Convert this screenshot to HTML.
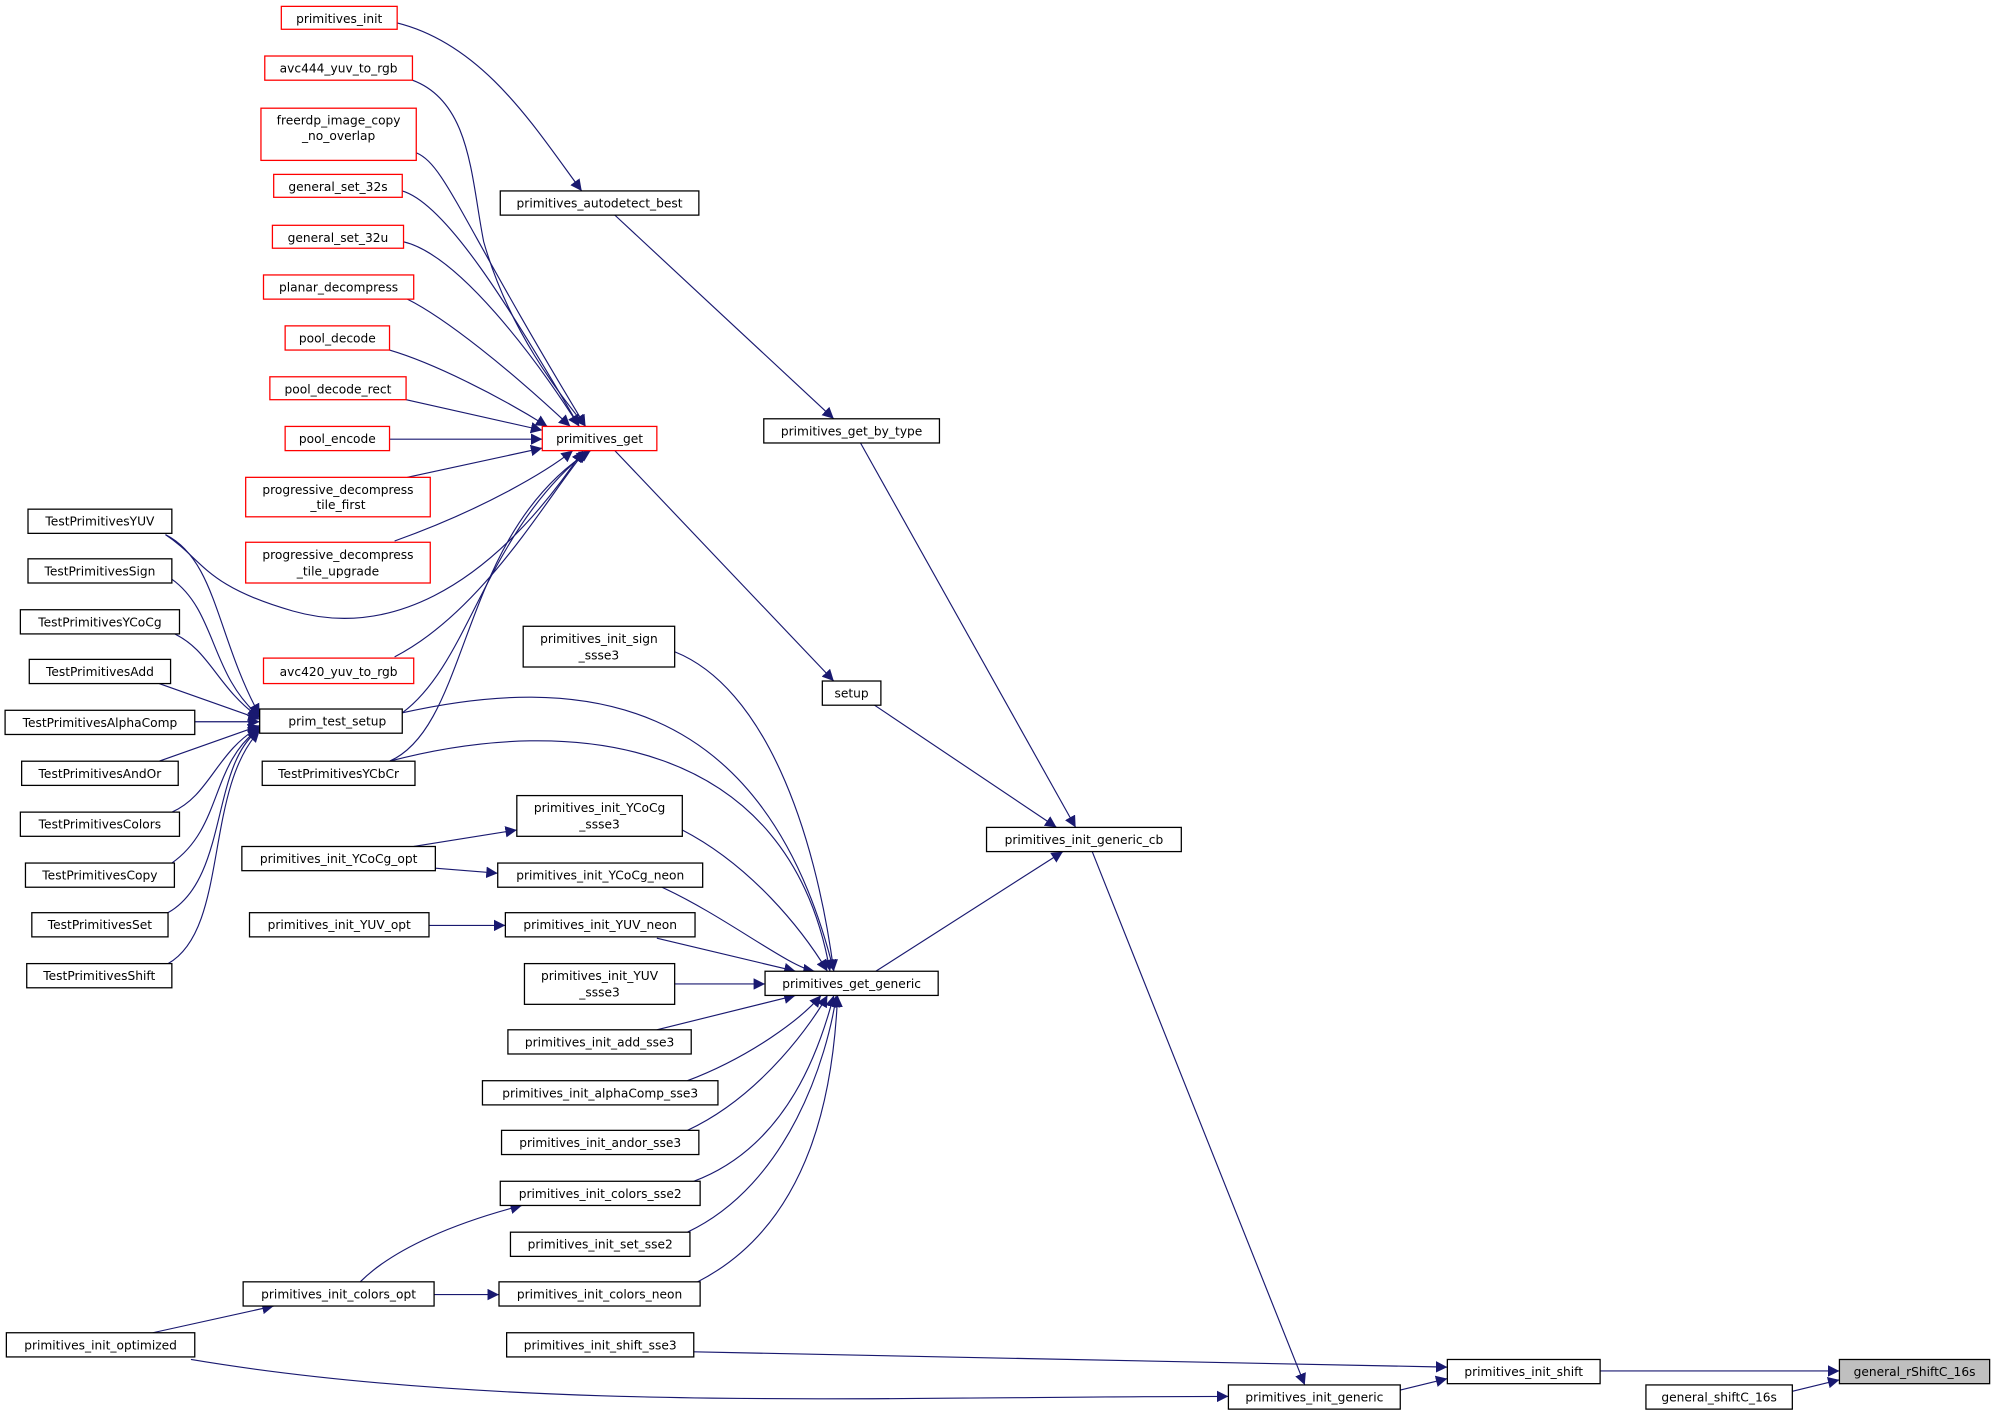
<!DOCTYPE html>
<html><head><meta charset="utf-8"><style>
html,body{margin:0;padding:0;background:#fff;}
svg{display:block;}
text{font-family:"DejaVu Sans","Liberation Sans",sans-serif;font-size:9.6px;fill:#000;text-anchor:middle;}
.b{fill:#fff;stroke:#000;stroke-width:1;}
.r{fill:#fff;stroke:#ff0000;stroke-width:1;}
.g{fill:#bfbfbf;stroke:#000;stroke-width:1;}
path.e{fill:none;stroke:#191970;stroke-width:0.9;}
</style></head><body>
<svg width="1996" height="1416" viewBox="0 0 1568 1112.4" preserveAspectRatio="none" xmlns="http://www.w3.org/2000/svg">
<defs><marker id="a" viewBox="0 0 10 10" refX="10" refY="5" markerWidth="9" markerHeight="9" markerUnits="userSpaceOnUse" orient="auto"><path d="M0,0L10,5L0,10z" fill="#191970"/></marker></defs>
<g marker-end="url(#a)">
<path class="e" d="M312,18 C380,35 420,100 457,150"/>
<path class="e" d="M483,169 L655,329"/>
<path class="e" d="M676,348 L845,650"/>
<path class="e" d="M483,354 L655,535"/>
<path class="e" d="M687,554 L830,650"/>
<path class="e" d="M858,669 L1025,1088"/>
<path class="e" d="M688,763 L835,669"/>
<path class="e" d="M1100,1092 L1137,1083"/>
<path class="e" d="M1257,1077 L1445,1077"/>
<path class="e" d="M1408,1093 L1445,1084"/>
<path class="e" d="M545,1062 L1137,1074"/>
<path class="e" d="M150,1068 C400,1110 700,1097 965,1097"/>
<path class="e" d="M341,1017 L392,1017"/>
<path class="e" d="M283,1007 C310,980 360,960 410,947"/>
<path class="e" d="M120,1047 L215,1026"/>
<path class="e" d="M325,665 L406,652"/>
<path class="e" d="M342,682 L391,686"/>
<path class="e" d="M337,727 L397,727"/>
<path class="e" d="M530,773 L601,773"/>
<!-- into get_generic -->
<path class="e" d="M530,512 C600,540 640,650 655,763"/>
<path class="e" d="M536,652 C590,680 630,730 650,763"/>
<path class="e" d="M520,697 C570,720 620,760 640,763"/>
<path class="e" d="M516,737 L625,763"/>
<path class="e" d="M516,809 L625,782"/>
<path class="e" d="M540,849 C590,830 630,800 645,782"/>
<path class="e" d="M540,888 C600,860 640,800 650,782"/>
<path class="e" d="M545,928 C620,900 645,820 655,782"/>
<path class="e" d="M540,968 C620,930 650,830 657,782"/>
<path class="e" d="M548,1007 C640,960 655,850 658,782"/>
<path class="e" d="M316,560 C450,530 600,540 655,763"/>
<path class="e" d="M306,598 C450,560 620,580 652,763"/>
<!-- into primitives_get -->
<path class="e" d="M324,63 C370,80 370,140 380,190 C400,260 440,310 460,335"/>
<path class="e" d="M327,120 C350,130 360,170 460,335"/>
<path class="e" d="M316,150 C350,160 400,240 455,335"/>
<path class="e" d="M317,190 C360,200 420,280 455,335"/>
<path class="e" d="M320,235 C350,250 400,290 448,335"/>
<path class="e" d="M306,275 C340,285 390,310 430,335"/>
<path class="e" d="M319,314 L426,338"/>
<path class="e" d="M306,345 L426,345"/>
<path class="e" d="M320,375 L426,352"/>
<path class="e" d="M310,425 C380,400 430,370 450,354"/>
<path class="e" d="M310,516 C380,480 430,390 460,354"/>
<path class="e" d="M316,560 C370,520 380,420 462,354"/>
<path class="e" d="M306,598 C370,570 360,420 464,354"/>
<path class="e" d="M130,420 C160,440 160,460 230,480 C300,500 380,470 458,354"/>
<!-- into prim_test_setup -->
<path class="e" d="M130,420 C170,440 170,500 204,562"/>
<path class="e" d="M135,455 C170,480 165,530 204,563"/>
<path class="e" d="M135,497 C165,510 170,540 204,564"/>
<path class="e" d="M125,537 L204,565"/>
<path class="e" d="M153,567 L204,567"/>
<path class="e" d="M125,598 L204,570"/>
<path class="e" d="M135,638 C165,625 170,590 204,571"/>
<path class="e" d="M135,678 C175,650 165,600 204,572"/>
<path class="e" d="M132,717 C180,690 165,600 204,573"/>
<path class="e" d="M132,757 C180,730 160,620 204,574"/>
</g>
<!-- red nodes -->
<rect class="r" x="221" y="5" width="91" height="18"/><text x="266.5" y="18">primitives_init</text>
<rect class="r" x="208" y="44" width="116" height="19"/><text x="266" y="57">avc444_yuv_to_rgb</text>
<rect class="r" x="205" y="85" width="122" height="41"/><text x="266" y="98">freerdp_image_copy</text><text x="266" y="110">_no_overlap</text>
<rect class="r" x="215" y="137" width="101" height="18"/><text x="265.5" y="150">general_set_32s</text>
<rect class="r" x="214" y="177" width="103" height="18"/><text x="265.5" y="190">general_set_32u</text>
<rect class="r" x="207" y="216" width="118" height="19"/><text x="266" y="229">planar_decompress</text>
<rect class="r" x="224" y="256" width="82" height="19"/><text x="265" y="269">pool_decode</text>
<rect class="r" x="212" y="296" width="107" height="18"/><text x="265.5" y="309">pool_decode_rect</text>
<rect class="r" x="224" y="335" width="82" height="19"/><text x="265" y="348">pool_encode</text>
<rect class="r" x="193" y="375" width="145" height="31"/><text x="265.5" y="388">progressive_decompress</text><text x="265.5" y="400">_tile_first</text>
<rect class="r" x="193" y="426" width="145" height="32"/><text x="265.5" y="439">progressive_decompress</text><text x="265.5" y="452">_tile_upgrade</text>
<rect class="r" x="207" y="517" width="118" height="20"/><text x="266" y="531">avc420_yuv_to_rgb</text>
<rect class="r" x="426" y="335" width="90" height="19"/><text x="471" y="348">primitives_get</text>
<!-- black nodes -->
<rect class="b" x="393" y="150" width="156" height="19"/><text x="471" y="163">primitives_autodetect_best</text>
<rect class="b" x="600" y="329" width="138" height="19"/><text x="669" y="342">primitives_get_by_type</text>
<rect class="b" x="646" y="535" width="46" height="19"/><text x="669" y="548">setup</text>
<rect class="b" x="775" y="650" width="153" height="19"/><text x="851.5" y="663">primitives_init_generic_cb</text>
<rect class="b" x="411" y="492" width="119" height="32"/><text x="470.5" y="505">primitives_init_sign</text><text x="470.5" y="518">_ssse3</text>
<rect class="b" x="204" y="557" width="112" height="19"/><text x="265" y="570">prim_test_setup</text>
<rect class="b" x="22" y="400" width="113" height="19"/><text x="78.5" y="413">TestPrimitivesYUV</text>
<rect class="b" x="22" y="439" width="113" height="19"/><text x="78.5" y="452">TestPrimitivesSign</text>
<rect class="b" x="16" y="479" width="125" height="19"/><text x="78.5" y="492">TestPrimitivesYCoCg</text>
<rect class="b" x="23" y="518" width="111" height="19"/><text x="78.5" y="531">TestPrimitivesAdd</text>
<rect class="b" x="4" y="558" width="149" height="19"/><text x="78.5" y="571">TestPrimitivesAlphaComp</text>
<rect class="b" x="17" y="598" width="123" height="19"/><text x="78.5" y="611">TestPrimitivesAndOr</text>
<rect class="b" x="16" y="638" width="125" height="19"/><text x="78.5" y="651">TestPrimitivesColors</text>
<rect class="b" x="20" y="678" width="117" height="19"/><text x="78.5" y="691">TestPrimitivesCopy</text>
<rect class="b" x="25" y="717" width="107" height="19"/><text x="78.5" y="730">TestPrimitivesSet</text>
<rect class="b" x="21" y="757" width="114" height="19"/><text x="78" y="770">TestPrimitivesShift</text>
<rect class="b" x="206" y="598" width="120" height="19"/><text x="266" y="611">TestPrimitivesYCbCr</text>
<rect class="b" x="406" y="625" width="130" height="32"/><text x="471" y="638">primitives_init_YCoCg</text><text x="471" y="651">_ssse3</text>
<rect class="b" x="190" y="665" width="152" height="19"/><text x="266" y="678">primitives_init_YCoCg_opt</text>
<rect class="b" x="391" y="678" width="161" height="19"/><text x="471.5" y="691">primitives_init_YCoCg_neon</text>
<rect class="b" x="196" y="717" width="141" height="19"/><text x="266.5" y="730">primitives_init_YUV_opt</text>
<rect class="b" x="397" y="717" width="149" height="19"/><text x="471.5" y="730">primitives_init_YUV_neon</text>
<rect class="b" x="412" y="757" width="118" height="32"/><text x="471" y="770">primitives_init_YUV</text><text x="471" y="783">_ssse3</text>
<rect class="b" x="601" y="763" width="136" height="19"/><text x="669" y="776">primitives_get_generic</text>
<rect class="b" x="399" y="809" width="144" height="19"/><text x="471" y="822">primitives_init_add_sse3</text>
<rect class="b" x="379" y="849" width="185" height="19"/><text x="471.5" y="862">primitives_init_alphaComp_sse3</text>
<rect class="b" x="394" y="888" width="155" height="19"/><text x="471.5" y="901">primitives_init_andor_sse3</text>
<rect class="b" x="393" y="928" width="157" height="19"/><text x="471.5" y="941">primitives_init_colors_sse2</text>
<rect class="b" x="401" y="968" width="141" height="19"/><text x="471.5" y="981">primitives_init_set_sse2</text>
<rect class="b" x="191" y="1007" width="150" height="19"/><text x="266" y="1020">primitives_init_colors_opt</text>
<rect class="b" x="392" y="1007" width="158" height="19"/><text x="471" y="1020">primitives_init_colors_neon</text>
<rect class="b" x="398" y="1047" width="147" height="19"/><text x="471.5" y="1060">primitives_init_shift_sse3</text>
<rect class="b" x="5" y="1047" width="148" height="19"/><text x="79" y="1060">primitives_init_optimized</text>
<rect class="b" x="1137" y="1068" width="120" height="19"/><text x="1197" y="1081">primitives_init_shift</text>
<rect class="b" x="965" y="1088" width="135" height="19"/><text x="1032.5" y="1101">primitives_init_generic</text>
<rect class="b" x="1293" y="1088" width="115" height="19"/><text x="1350.5" y="1101">general_shiftC_16s</text>
<rect class="g" x="1445" y="1068" width="118" height="19"/><text x="1504" y="1081">general_rShiftC_16s</text>
</svg>
</body></html>
